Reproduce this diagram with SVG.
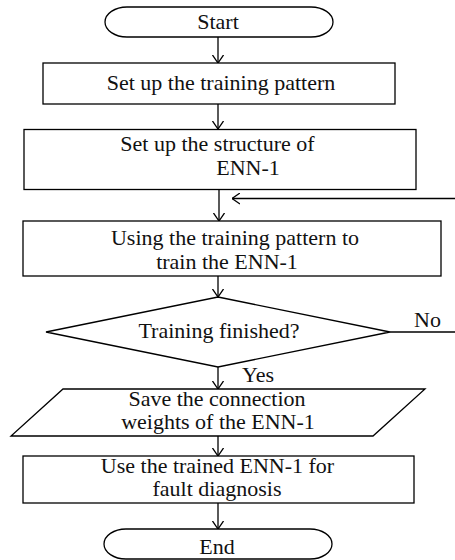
<svg xmlns="http://www.w3.org/2000/svg" width="455" height="560" viewBox="0 0 455 560">
<style>
.s{fill:#fff;stroke:#000;stroke-width:1.3}
.c{fill:none;stroke:#000;stroke-width:1.3}
text{font-family:"Liberation Serif","Times New Roman",serif;font-size:22px;fill:#111}
.m{text-anchor:middle}
</style>
<defs>
<marker id="ah" viewBox="0 0 8 12" refX="8" refY="6" markerWidth="8" markerHeight="12" markerUnits="userSpaceOnUse" orient="auto">
<path d="M0,0.5 L8,6 L0,11.5" fill="none" stroke="#000" stroke-width="1.3"/>
</marker>
</defs>
<rect width="455" height="560" fill="#fff"/>
<g id="connectors">
<line class="c" x1="218" y1="37" x2="218" y2="63" marker-end="url(#ah)"/>
<line class="c" x1="218" y1="104" x2="218" y2="129" marker-end="url(#ah)"/>
<line class="c" x1="219" y1="190" x2="219" y2="221" marker-end="url(#ah)"/>
<line class="c" x1="455" y1="198.5" x2="232" y2="198.5" marker-end="url(#ah)"/>
<line class="c" x1="218" y1="276" x2="218" y2="297" marker-end="url(#ah)"/>
<line class="c" x1="390" y1="332" x2="455" y2="332"/>
<line class="c" x1="218" y1="367" x2="218" y2="389" marker-end="url(#ah)"/>
<line class="c" x1="218" y1="436" x2="218" y2="456" marker-end="url(#ah)"/>
<line class="c" x1="218" y1="503" x2="218" y2="529" marker-end="url(#ah)"/>
<text x="414" y="327">No</text>
<text x="242" y="382">Yes</text>
</g>
<g id="start">
<rect class="s" x="105" y="7" width="228" height="30" rx="22" ry="15"/>
<text class="m" x="218" y="29">Start</text>
</g>
<g id="pattern">
<rect class="s" x="43" y="63" width="352" height="41"/>
<text class="m" x="221" y="90">Set up the training pattern</text>
</g>
<g id="structure">
<rect class="s" x="24" y="129.5" width="392" height="60"/>
<text class="m" x="217.5" y="151">Set up the structure of</text>
<text class="m" x="248" y="175">ENN-1</text>
</g>
<g id="train">
<rect class="s" x="23" y="221" width="418" height="55"/>
<text class="m" x="235" y="245">Using the training pattern to</text>
<text class="m" x="227" y="269">train the ENN-1</text>
</g>
<g id="decision">
<polygon class="s" points="218,297 390,332 218,367 46,332"/>
<text class="m" x="219" y="338">Training finished?</text>
</g>
<g id="save">
<polygon class="s" points="63,389 425,389 373,436 11,436"/>
<text class="m" x="217" y="406">Save the connection</text>
<text class="m" x="218" y="429">weights of the ENN-1</text>
</g>
<g id="use">
<rect class="s" x="23" y="456" width="391" height="47"/>
<text class="m" x="217.5" y="473">Use the trained ENN-1 for</text>
<text class="m" x="217" y="496">fault diagnosis</text>
</g>
<g id="end">
<rect class="s" x="104" y="529" width="228" height="30" rx="22" ry="15"/>
<text class="m" x="217" y="554">End</text>
</g>
</svg>
